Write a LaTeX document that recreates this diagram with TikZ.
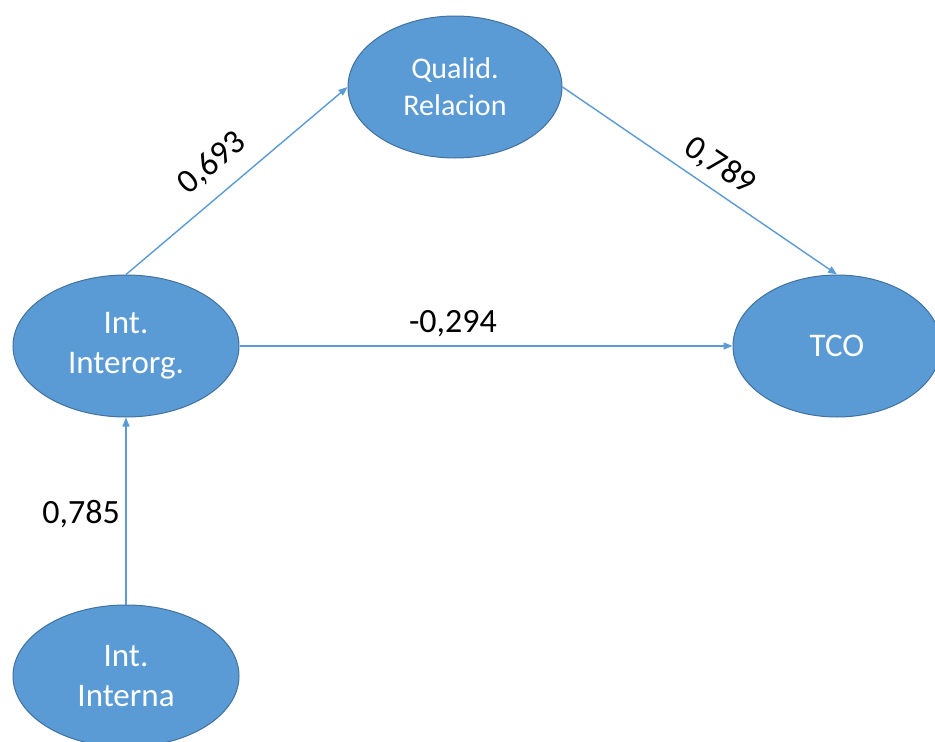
\documentclass[tikz,border=0pt]{standalone}
\usepackage{fontspec}
\setmainfont{Carlito}
\usetikzlibrary{shapes.geometric,arrows.meta}
\definecolor{nodefill}{HTML}{5B9BD5}
\definecolor{nodeline}{HTML}{41719C}
\definecolor{arrowcol}{HTML}{5B9BD5}
\begin{document}
\begin{tikzpicture}[x=1pt,y=-1pt,
  construct/.style={ellipse, fill=nodefill, draw=nodeline, line width=1pt,
    inner sep=0pt, minimum height=142pt, text=white, align=center,
    font=\fontsize{33}{40}\selectfont},
  path/.style={draw=arrowcol, line width=1.4pt,
    -{Triangle[length=9pt,width=7pt]}},
  coef/.style={font=\fontsize{34}{40}\selectfont, text=black, inner sep=0pt}]
\useasboundingbox (0,0) rectangle (935,742);
\clip (0,0) rectangle (935,742);
\fill[white] (0,0) rectangle (935,742);

% latent constructs
\node[construct, minimum width=214pt, font=\fontsize{30}{37}\selectfont]
  (qual) at (455,87) {Qualid.\\Relacion};
\node[construct, minimum width=226pt] (inter) at (126,346) {Int.\\Interorg.};
\node[construct, minimum width=208pt] (tco) at (837,346) {TCO};
\node[construct, minimum width=226pt] (intern) at (126,676) {Int.\\Interna};

% structural paths
\draw[path] (inter.north) -- (qual.west);
\draw[path] (qual.east) -- (tco.north);
\draw[path] (inter.east) -- (tco.west);
\draw[path] (intern.north) -- (inter.south);

% path coefficients
\node[coef, rotate=40] (c1) at (212,163) {0,693};
\node[coef, rotate=-34] (c2) at (720,166) {0,789};
\node[coef, anchor=base] (c3) at (453,332) {-0,294};
\node[coef, anchor=base] (c4) at (81,523) {0,785};
\end{tikzpicture}
\end{document}
